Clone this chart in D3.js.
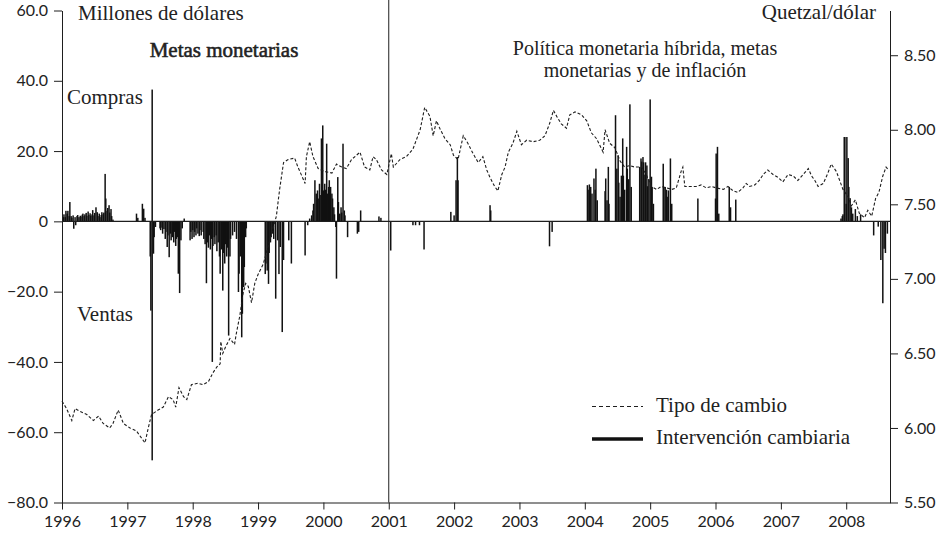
<!DOCTYPE html>
<html>
<head>
<meta charset="utf-8">
<script src="https://cdn.jsdelivr.net/npm/d3@7/dist/d3.min.js"></script>
<style>
  html, body { margin: 0; padding: 0; background: #fff; }
  svg { display: block; }
  .tick text { font-family: Lato, "Noto Sans", sans-serif; font-size: 16px; fill: #222; }
  .lbl { font-family: "Liberation Serif", serif; fill: #222; }
</style>
</head>
<body>
<svg id="chart" width="951" height="534"></svg>
<script>
// ---------------- DATA ----------------
const yearTicks = [1996, 1997, 1998, 1999, 2000, 2001, 2002, 2003, 2004, 2005, 2006, 2007, 2008];
const leftTicks = [-80, -60, -40, -20, 0, 20, 40, 60];
const rightTicks = [5.5, 6.0, 6.5, 7.0, 7.5, 8.0, 8.5];
const regimeChange = 2001;

// Tipo de cambio (quetzales por dólar), [año decimal, valor]
const exchangeRate = [
[1996.00,6.18],[1996.07,6.13],[1996.15,6.05],[1996.20,6.13],[1996.28,6.11],[1996.38,6.09],[1996.48,6.05],[1996.56,6.08],[1996.63,6.03],[1996.73,6.00],[1996.78,6.03],[1996.86,6.12],[1996.94,6.03],
[1997.04,6.00],[1997.14,5.98],[1997.22,5.93],[1997.27,5.90],[1997.32,6.00],[1997.37,6.09],[1997.47,6.12],[1997.55,6.14],[1997.63,6.21],[1997.70,6.19],[1997.74,6.14],[1997.79,6.27],[1997.86,6.21],[1997.91,6.19],[1997.98,6.29],
[1998.08,6.30],[1998.16,6.29],[1998.24,6.31],[1998.31,6.37],[1998.37,6.41],[1998.42,6.43],[1998.43,6.58],[1998.46,6.50],[1998.51,6.55],[1998.57,6.60],[1998.64,6.56],[1998.67,6.64],[1998.72,6.75],[1998.77,6.90],[1998.81,6.97],[1998.85,6.95],[1998.90,6.84],[1998.95,6.97],
[1999.00,7.03],[1999.08,7.10],[1999.18,7.26],[1999.28,7.42],[1999.33,7.60],[1999.39,7.78],[1999.46,7.80],[1999.56,7.81],[1999.61,7.75],[1999.67,7.69],[1999.72,7.64],[1999.74,7.82],[1999.79,7.92],[1999.84,7.82],[1999.92,7.74],
[2000.02,7.72],[2000.13,7.71],[2000.20,7.77],[2000.28,7.75],[2000.35,7.74],[2000.43,7.80],[2000.56,7.85],[2000.63,7.75],[2000.71,7.73],[2000.76,7.82],[2000.81,7.80],[2000.89,7.73],[2000.97,7.70],
[2001.04,7.84],[2001.07,7.75],[2001.17,7.80],[2001.27,7.82],[2001.37,7.87],[2001.48,8.00],[2001.55,8.15],[2001.63,8.09],[2001.68,7.96],[2001.73,8.06],[2001.78,8.01],[2001.86,7.94],[2001.94,7.90],[2001.99,7.83],
[2002.06,7.80],[2002.14,7.96],[2002.21,7.91],[2002.29,7.84],[2002.37,7.78],[2002.44,7.82],[2002.50,7.73],[2002.55,7.68],[2002.62,7.62],[2002.67,7.59],[2002.73,7.70],[2002.78,7.75],[2002.83,7.85],[2002.90,7.91],[2002.96,7.99],
[2003.03,7.90],[2003.11,7.93],[2003.21,7.92],[2003.31,7.93],[2003.39,7.96],[2003.46,8.04],[2003.52,8.13],[2003.57,8.09],[2003.64,8.04],[2003.72,8.01],[2003.77,8.10],[2003.85,8.12],[2003.95,8.10],
[2004.03,8.06],[2004.10,7.98],[2004.18,7.94],[2004.28,7.85],[2004.31,8.00],[2004.38,7.91],[2004.46,7.88],[2004.54,7.79],[2004.61,7.75],[2004.69,7.76],[2004.76,7.75],[2004.87,7.75],[2004.94,7.70],
[2005.02,7.62],[2005.10,7.60],[2005.17,7.62],[2005.25,7.61],[2005.33,7.60],[2005.40,7.61],[2005.48,7.73],[2005.50,7.75],[2005.53,7.62],[2005.61,7.62],[2005.71,7.62],[2005.78,7.63],[2005.86,7.61],[2005.94,7.62],
[2006.01,7.61],[2006.12,7.60],[2006.19,7.62],[2006.27,7.59],[2006.34,7.58],[2006.42,7.61],[2006.47,7.64],[2006.52,7.62],[2006.60,7.63],[2006.67,7.66],[2006.73,7.70],[2006.80,7.73],[2006.88,7.70],[2006.96,7.68],
[2007.03,7.65],[2007.11,7.70],[2007.19,7.69],[2007.26,7.66],[2007.34,7.70],[2007.42,7.74],[2007.47,7.69],[2007.52,7.66],[2007.57,7.62],[2007.65,7.64],[2007.72,7.71],[2007.77,7.77],[2007.85,7.72],[2007.90,7.66],[2007.95,7.60],
[2008.03,7.55],[2008.08,7.49],[2008.14,7.53],[2008.20,7.44],[2008.28,7.41],[2008.33,7.46],[2008.39,7.42],[2008.45,7.54],[2008.50,7.58],[2008.56,7.69],[2008.61,7.75],[2008.65,7.73]
];

// Intervención cambiaria (millones de dólares), [año decimal, valor]
const intervention = [
[1996.02,1.2],[1996.03,2.0],[1996.05,1.2],[1996.06,3.0],[1996.08,2.2],[1996.09,3.0],[1996.11,1.5],[1996.12,5.5],[1996.14,1.5],[1996.15,1.0],[1996.17,1.7],[1996.18,-2.1],[1996.20,1.2],[1996.21,-1.1],[1996.23,1.5],[1996.24,1.8],[1996.26,1.2],[1996.28,1.6],[1996.29,1.4],[1996.31,1.9],[1996.32,2.2],[1996.34,1.5],[1996.35,2.0],[1996.37,2.4],[1996.38,1.6],[1996.40,2.8],[1996.41,1.8],[1996.43,2.3],[1996.44,1.6],[1996.46,2.0],[1996.47,3.2],[1996.49,1.7],[1996.50,2.4],[1996.52,4.0],[1996.54,2.6],[1996.55,1.5],[1996.57,2.2],[1996.58,1.2],[1996.60,1.8],[1996.61,2.6],[1996.63,2.0],[1996.64,2.5],[1996.66,13.5],[1996.67,6.5],[1996.69,3.0],[1996.70,3.8],[1996.72,4.6],[1996.73,2.5],[1996.75,3.5],[1996.76,1.5],[1996.78,0.5],
[1997.14,2.2],[1997.16,1.0],[1997.23,5.0],[1997.25,3.6],[1997.27,1.0],
[1997.35,-10.0],[1997.36,-25.4],[1997.38,37.5],[1997.38,-68.0],[1997.40,-9.2],[1997.41,-4.5],[1997.43,-1.6],
[1997.50,-2.0],[1997.51,-2.5],[1997.53,-1.8],[1997.54,-3.5],[1997.56,-2.2],[1997.58,-5.0],[1997.59,-3.0],[1997.61,-7.3],[1997.62,-4.0],[1997.64,-10.2],[1997.66,-3.5],[1997.67,-5.4],[1997.69,-4.5],[1997.71,-6.0],[1997.72,-3.0],[1997.74,-7.0],[1997.75,-5.0],[1997.77,-4.5],[1997.78,-14.9],[1997.79,-7.0],[1997.80,-20.4],[1997.82,-5.4],[1997.84,-2.0],[1997.87,0.8],
[1997.96,-5.4],[1997.97,-3.0],[1997.99,-5.0],[1998.00,-2.5],[1998.02,-4.5],[1998.03,-3.0],[1998.05,-4.0],[1998.06,-2.0],[1998.08,-3.5],[1998.10,-4.2],[1998.11,-2.5],[1998.13,-4.0],[1998.16,-3.0],[1998.17,-5.0],[1998.19,-6.5],[1998.21,-17.6],[1998.23,-6.0],[1998.24,-7.5],[1998.26,-4.0],[1998.27,-8.0],[1998.29,-5.0],[1998.30,-40.0],[1998.31,-7.0],[1998.33,-4.5],[1998.34,-6.5],[1998.36,-4.0],[1998.37,-8.5],[1998.39,-6.0],[1998.41,-10.0],[1998.42,-14.9],[1998.44,-8.0],[1998.46,-19.7],[1998.47,-9.0],[1998.49,-12.0],[1998.50,-6.5],[1998.52,-10.0],[1998.53,-7.5],[1998.55,-32.5],[1998.57,-10.0],[1998.58,-5.0],
[1998.61,-4.0],[1998.64,-3.0],[1998.67,-5.0],[1998.70,-20.1],[1998.71,-14.9],[1998.73,-10.0],[1998.75,-33.0],[1998.76,-26.3],[1998.78,-18.7],[1998.79,-13.0],[1998.81,-4.5],[1998.82,-2.0],
[1999.11,-15.0],[1999.12,-12.0],[1999.14,-14.0],[1999.16,-17.8],[1999.17,-9.0],[1999.19,-6.0],[1999.20,-4.5],[1999.22,-3.5],[1999.24,-5.0],[1999.27,-22.0],[1999.30,-5.4],[1999.32,-15.0],[1999.34,-7.3],[1999.37,-31.5],[1999.39,-11.0],[1999.47,-5.4],[1999.51,-12.0],[1999.72,-9.7],[1999.76,-1.1],[1999.79,0.8],
[1999.82,1.7],[1999.84,3.1],[1999.85,5.0],[1999.87,11.7],[1999.89,7.9],[1999.91,8.8],[1999.92,6.5],[1999.94,10.7],[1999.95,7.5],[1999.97,23.6],[1999.99,27.3],[2000.00,8.8],[2000.02,10.7],[2000.03,9.0],[2000.05,22.1],[2000.06,7.9],[2000.08,9.8],[2000.09,11.7],[2000.11,9.8],[2000.13,7.9],[2000.14,6.5],[2000.16,4.0],[2000.17,2.0],[2000.19,-1.6],[2000.20,-16.3],[2000.22,12.6],[2000.23,5.5],[2000.25,2.2],[2000.27,4.0],[2000.28,2.5],[2000.30,22.1],[2000.32,3.1],[2000.33,1.7],[2000.37,-4.5],[2000.52,-3.5],[2000.54,-3.0],[2000.57,3.1],[2000.85,1.4],[2000.88,1.0],
[2001.03,-8.3],[2001.37,-1.1],[2001.41,-1.1],[2001.47,-1.1],[2001.54,-8.0],[2001.95,2.7],[2002.00,1.7],[2002.03,11.7],[2002.05,18.3],[2002.06,11.7],[2002.55,4.6],[2002.56,3.1],[2003.46,-7.1],[2003.50,-3.0],
[2004.04,10.3],[2004.05,9.0],[2004.07,10.5],[2004.09,9.8],[2004.11,7.9],[2004.14,12.2],[2004.16,9.0],[2004.17,15.0],[2004.19,6.0],[2004.31,8.6],[2004.32,12.2],[2004.34,6.0],[2004.36,15.5],[2004.37,5.0],[2004.47,30.2],[2004.49,15.0],[2004.51,18.8],[2004.52,11.0],[2004.54,7.0],[2004.56,13.0],[2004.58,23.6],[2004.59,13.0],[2004.61,9.0],[2004.64,21.2],[2004.65,15.0],[2004.67,12.0],[2004.69,33.3],[2004.71,9.8],
[2004.84,15.5],[2004.86,17.9],[2004.87,17.0],[2004.89,18.3],[2004.90,16.8],[2004.92,13.3],[2004.93,16.8],[2004.95,15.9],[2004.96,10.0],[2004.98,12.0],[2005.00,34.7],[2005.02,12.7],[2005.03,9.8],[2005.05,5.0],[2005.20,16.4],[2005.21,9.8],[2005.23,9.8],[2005.25,9.0],[2005.26,7.0],[2005.28,8.8],[2005.31,17.9],[2005.33,5.0],
[2005.73,6.5],[2006.00,6.5],[2006.01,19.3],[2006.03,21.2],[2006.05,2.2],[2006.21,9.8],[2006.23,4.0],[2006.31,6.2],
[2007.92,0.8],[2007.94,1.5],[2007.95,2.0],[2007.97,24.0],[2007.98,24.0],[2008.00,5.0],[2008.01,24.0],[2008.03,18.0],[2008.04,9.8],[2008.06,6.6],[2008.08,4.0],[2008.10,2.2],[2008.14,3.5],[2008.17,1.5],[2008.22,2.0],[2008.42,-4.0],[2008.49,-1.5],[2008.53,-11.0],[2008.56,-23.3],[2008.58,-7.8],[2008.60,-9.0],[2008.63,-3.5]
];

// ---------------- CHART ----------------
(function () {
const svg = d3.select("#chart");
const mLeft = 62, mRight = 890, mTop = 10.5, mBottom = 502.5;

const x = d3.scaleLinear().domain([1996, 2008.67]).range([mLeft, mRight]);
const yL = d3.scaleLinear().domain([-80, 60]).range([mBottom, mTop]);
const yR = d3.scaleLinear().domain([5.5, 8.8]).range([mBottom, mTop]);

const ink = "#1e1e1e";

// bars
svg.append("g").selectAll("rect").data(intervention).join("rect")
  .attr("x", d => x(d[0]) - 0.75)
  .attr("width", 1.5)
  .attr("y", d => Math.min(yL(0), yL(d[1])))
  .attr("height", d => Math.abs(yL(d[1]) - yL(0)))
  .attr("fill", "#111");

// zero line
svg.append("line")
  .attr("x1", mLeft).attr("x2", mRight)
  .attr("y1", yL(0)).attr("y2", yL(0))
  .attr("stroke", ink).attr("stroke-width", 1.4);

// regime change line
svg.append("line")
  .attr("x1", x(regimeChange)).attr("x2", x(regimeChange))
  .attr("y1", 0).attr("y2", mBottom)
  .attr("stroke", ink).attr("stroke-width", 1);

// exchange-rate line
svg.append("path")
  .datum(exchangeRate)
  .attr("fill", "none")
  .attr("stroke", ink)
  .attr("stroke-width", 1.1)
  .attr("stroke-dasharray", "3,2")
  .attr("d", d3.line().x(d => x(d[0])).y(d => yR(d[1])));

// axes
const fmtL = v => v === 0 ? "0" : d3.format(".1f")(v);
const gL = svg.append("g").attr("transform", `translate(${mLeft},0)`)
  .call(d3.axisLeft(yL).tickValues(leftTicks).tickFormat(fmtL).tickSize(8).tickSizeOuter(0).tickPadding(6));
const gR = svg.append("g").attr("transform", `translate(${mRight},0)`)
  .call(d3.axisRight(yR).tickValues(rightTicks).tickFormat(d3.format(".2f")).tickSize(8).tickSizeOuter(0).tickPadding(6));
const gB = svg.append("g").attr("transform", `translate(0,${mBottom})`)
  .call(d3.axisBottom(x).tickValues(yearTicks).tickFormat(d3.format("d")).tickSize(7).tickSizeOuter(0).tickPadding(6));
[gL, gR, gB].forEach(g => {
  g.selectAll("path, line").attr("stroke", ink).attr("stroke-width", 1);
});
gB.selectAll("text").attr("dy", "0.72em");

// labels
function label(txt, px, py, size, anchor, semibold) {
  const t = svg.append("text").attr("class", "lbl")
    .attr("x", px).attr("y", py)
    .attr("font-size", size)
    .attr("text-anchor", anchor || "start")
    .text(txt);
  if (semibold) t.attr("stroke", "#222").attr("stroke-width", 0.55);
}
label("Millones de dólares", 78, 20, 21);
label("Metas monetarias", 224, 57, 21, "middle", true);
label("Compras", 67, 104, 21);
label("Ventas", 77, 321, 21);
label("Política monetaria híbrida, metas", 645, 55, 20, "middle");
label("monetarias y de inflación", 645, 77, 20, "middle");
label("Quetzal/dólar", 876, 19, 21, "end");

// legend
svg.append("line").attr("x1", 592).attr("x2", 643).attr("y1", 406.5).attr("y2", 406.5)
  .attr("stroke", ink).attr("stroke-width", 1.1).attr("stroke-dasharray", "4,3");
svg.append("line").attr("x1", 592).attr("x2", 643).attr("y1", 439).attr("y2", 439)
  .attr("stroke", "#111").attr("stroke-width", 3.5);
label("Tipo de cambio", 656, 412, 21);
label("Intervención cambiaria", 656, 444, 21);
})();
</script>
</body>
</html>
